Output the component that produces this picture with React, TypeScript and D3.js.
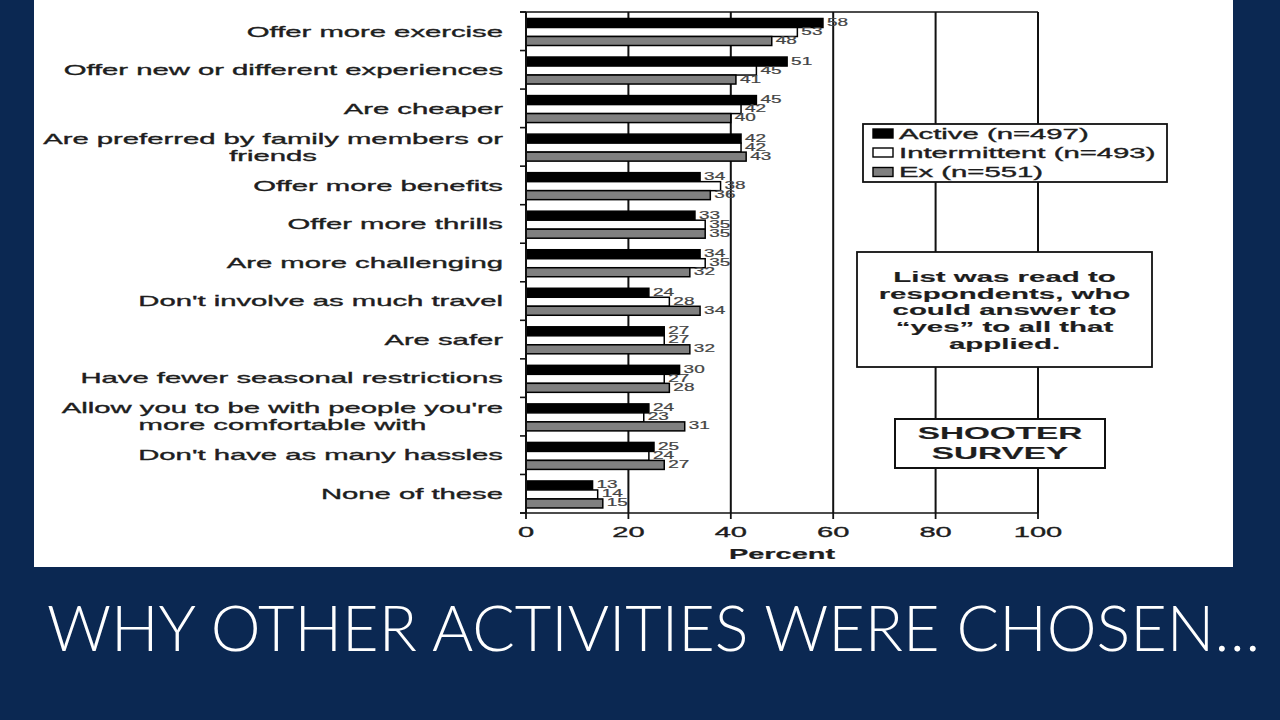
import React, { useEffect, useRef } from "react";
import * as d3 from "d3";

const categories: string[][] = [
  ["Offer more exercise"],
  ["Offer new or different experiences"],
  ["Are cheaper"],
  ["Are preferred by family members or", "friends"],
  ["Offer more benefits"],
  ["Offer more thrills"],
  ["Are more challenging"],
  ["Don't involve as much travel"],
  ["Are safer"],
  ["Have fewer seasonal restrictions"],
  ["Allow you to be with people you're", "more comfortable with"],
  ["Don't have as many hassles"],
  ["None of these"],
];
const seriesNames = ["Active (n=497)", "Intermittent (n=493)", "Ex (n=551)"];
const seriesFill = ["#000000", "#ffffff", "#808080"];
const active = [58, 51, 45, 42, 34, 33, 34, 24, 27, 30, 24, 25, 13];
const intermittent = [53, 45, 42, 42, 38, 35, 35, 28, 27, 27, 23, 24, 14];
const ex = [48, 41, 40, 43, 36, 35, 32, 34, 32, 28, 31, 27, 15];
const xTicks = [0, 20, 40, 60, 80, 100];
const axisTitle = "Percent";
const noteLines = ["List was read to", "respondents, who", "could answer to", "\u201cyes\u201d to all that", "applied."];
const stampLines = ["SHOOTER", "SURVEY"];
const slideTitle = "WHY OTHER ACTIVITIES WERE CHOSEN\u2026";

const FONT = "'Liberation Sans', Arial, Helvetica, sans-serif";

export default function App() {
  const ref = useRef<SVGSVGElement | null>(null);

  useEffect(() => {
    const svg = d3.select(ref.current);
    svg.selectAll("*").remove();

    const series = [active, intermittent, ex];

    // background
    svg.append("rect").attr("x", 0).attr("y", 0).attr("width", 1280).attr("height", 720).attr("fill", "#0b2852");
    svg.append("rect").attr("x", 34).attr("y", 0).attr("width", 1199).attr("height", 567).attr("fill", "#ffffff");

    const x = d3.scaleLinear().domain([0, 100]).range([526, 1038]);
    const idx = categories.map((_, i) => String(i));
    const y = d3.scaleBand().domain(idx).range([12, 513]).paddingInner(0).paddingOuter(0);
    const inner = d3.scaleBand().domain(["0", "1", "2"]).range([6.5, 33.5]);

    const stext = (
      g: any,
      tx: number,
      ty: number,
      txt: string,
      o: { size: number; anchor?: string; weight?: string; fill?: string; sx: number; halo?: number }
    ) =>
      g
        .append("text")
        .attr("transform", `translate(${tx},${ty}) scale(${o.sx},1)`)
        .attr("text-anchor", o.anchor || "start")
        .attr("font-family", FONT)
        .attr("font-size", o.size)
        .attr("font-weight", o.weight || "normal")
        .attr("fill", o.fill || "#1e1e1e")
        .attr("stroke", o.fill || "#1e1e1e")
        .attr("stroke-width", o.halo ?? 0.35)
        .text(txt);

    const g = svg.append("g");

    // gridlines
    xTicks.slice(1).forEach((t) => {
      g.append("line").attr("x1", x(t)).attr("x2", x(t)).attr("y1", 12).attr("y2", 513)
        .attr("stroke", "#111").attr("stroke-width", 2);
    });
    // top border
    g.append("line").attr("x1", 520).attr("x2", x(100)).attr("y1", 12).attr("y2", 12)
      .attr("stroke", "#111").attr("stroke-width", 1.6);

    // bars
    idx.forEach((c, i) => {
      series.forEach((s, si) => {
        const by = (y(c) as number) + (inner(String(si)) as number);
        g.append("rect")
          .attr("x", x(0))
          .attr("y", by)
          .attr("width", x(s[i]) - x(0))
          .attr("height", inner.bandwidth())
          .attr("fill", seriesFill[si])
          .attr("stroke", "#000")
          .attr("stroke-width", 1.5);
      });
    });

    // value labels
    idx.forEach((c, i) => {
      series.forEach((s, si) => {
        const cy = (y(c) as number) + (inner(String(si)) as number) + inner.bandwidth() / 2;
        stext(g, x(s[i]) + 4, cy + 3, String(s[i]), { size: 10, sx: 1.9, fill: "#444", halo: 0.2 });
      });
    });

    // left axis
    g.append("line").attr("x1", x(0)).attr("x2", x(0)).attr("y1", 12).attr("y2", 513)
      .attr("stroke", "#111").attr("stroke-width", 2);
    [...idx.map((c) => y(c) as number), 513].forEach((ty) => {
      g.append("line").attr("x1", 520).attr("x2", x(0)).attr("y1", ty).attr("y2", ty)
        .attr("stroke", "#111").attr("stroke-width", 1.6);
    });
    // bottom axis
    g.append("line").attr("x1", 520).attr("x2", x(100)).attr("y1", 513).attr("y2", 513)
      .attr("stroke", "#111").attr("stroke-width", 1.6);
    xTicks.forEach((t) => {
      g.append("line").attr("x1", x(t)).attr("x2", x(t)).attr("y1", 513).attr("y2", 519)
        .attr("stroke", "#111").attr("stroke-width", 1.8);
      stext(g, x(t), 537, String(t), { size: 15, sx: 1.94, anchor: "middle" });
    });
    stext(g, (x(0) + x(100)) / 2, 559, axisTitle, { size: 15, sx: 1.93, anchor: "middle", weight: "bold", halo: 0.2 });

    // category labels
    const labelRight = 503;
    idx.forEach((c, i) => {
      const lines = categories[i];
      const cy = (y(c) as number) + y.bandwidth() / 2;
      if (lines.length === 1) {
        stext(g, labelRight, cy + 5.3, lines[0], { size: 15, sx: 1.95, anchor: "end" });
      } else {
        const t1 = stext(g, labelRight, cy - 8.5 + 5.3, lines[0], { size: 15, sx: 1.95, anchor: "end" });
        const w1 = (t1.node() as SVGTextElement).getComputedTextLength() * 1.95;
        stext(g, labelRight - w1 / 2, cy + 8.5 + 5.3, lines[1], { size: 15, sx: 1.95, anchor: "middle" });
      }
    });

    // legend
    g.append("rect").attr("x", 863).attr("y", 124).attr("width", 304).attr("height", 58)
      .attr("fill", "#fff").attr("stroke", "#111").attr("stroke-width", 1.8);
    const legendY = [133.5, 152.5, 172];
    seriesNames.forEach((n, si) => {
      g.append("rect").attr("x", 873).attr("y", legendY[si] - 4.5).attr("width", 20).attr("height", 9)
        .attr("fill", seriesFill[si]).attr("stroke", "#000").attr("stroke-width", 1.4);
      stext(g, 899, legendY[si] + 5, n, { size: 14.5, sx: 2.02 });
    });

    // note box
    g.append("rect").attr("x", 857).attr("y", 252).attr("width", 295).attr("height", 115)
      .attr("fill", "#fff").attr("stroke", "#111").attr("stroke-width", 1.8);
    const noteY = [277, 293.5, 310, 327, 344];
    noteLines.forEach((l, li) => {
      stext(g, 1004.5, noteY[li] + 5, l, { size: 14.5, sx: 2.03, anchor: "middle", weight: "bold", halo: 0.15 });
    });

    // stamp box
    g.append("rect").attr("x", 895).attr("y", 419).attr("width", 210).attr("height", 49)
      .attr("fill", "#fff").attr("stroke", "#111").attr("stroke-width", 2);
    const stampY = [433, 453];
    stampLines.forEach((l, li) => {
      stext(g, 1000, stampY[li] + 6, l, { size: 17, sx: 1.96, anchor: "middle", weight: "bold", halo: 0.15 });
    });

    // slide title
    svg.append("text")
      .attr("x", 47)
      .attr("y", 651)
      .attr("font-family", "Lato, 'Open Sans', sans-serif")
      .attr("font-weight", 300)
      .attr("font-size", 64)
      .attr("fill", "#ffffff")
      .attr("textLength", 1213)
      .attr("lengthAdjust", "spacingAndGlyphs")
      .text(slideTitle);
  }, []);

  return (
    <div style={{ position: "absolute", left: 0, top: 0, width: 1280, height: 720 }}>
      <svg ref={ref} width={1280} height={720} style={{ display: "block" }} />
    </div>
  );
}
